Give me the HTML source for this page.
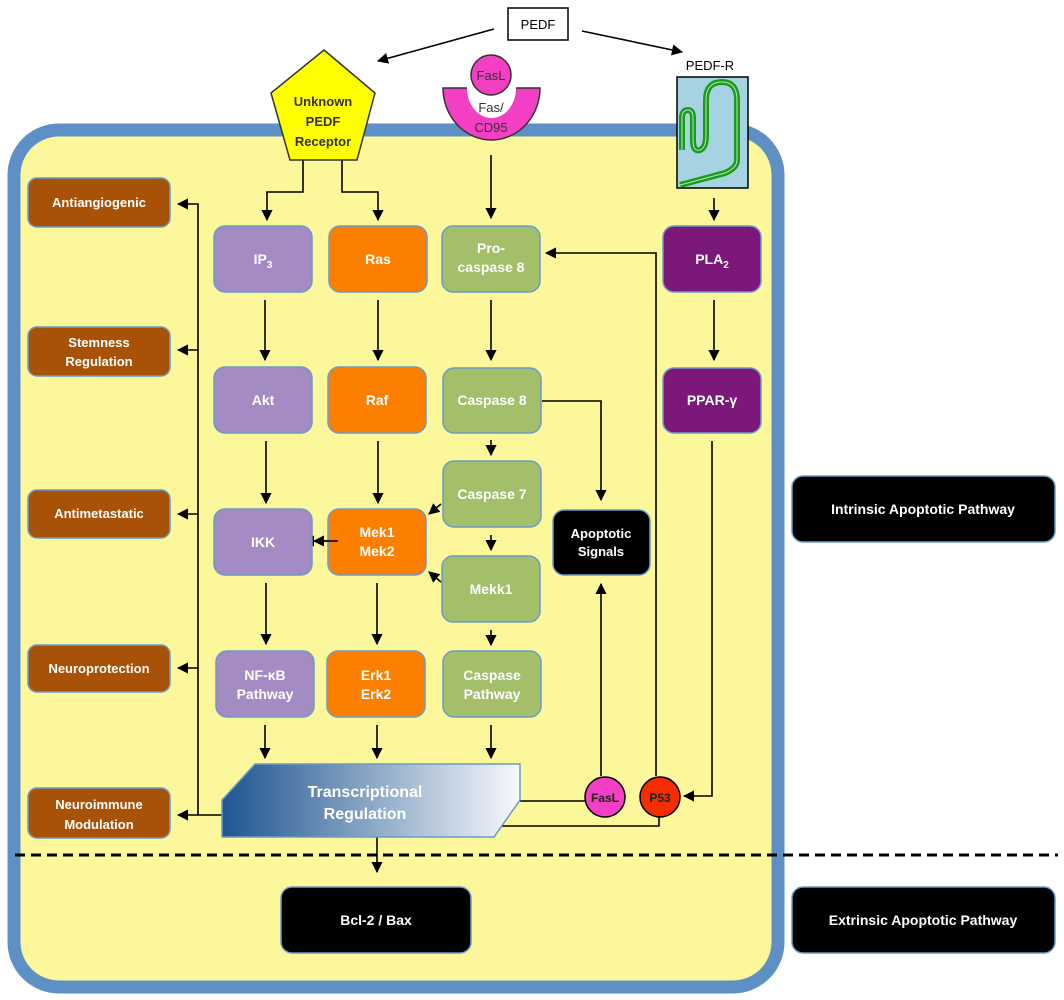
<!DOCTYPE html>
<html><head><meta charset="utf-8"><style>
html,body{margin:0;padding:0;background:#fff}
svg{display:block}
text{font-family:"Liberation Sans",sans-serif;font-weight:bold;text-anchor:middle;fill:#fff}
</style></head><body>
<svg width="1064" height="1000" viewBox="0 0 1064 1000" xmlns="http://www.w3.org/2000/svg">
<defs>
<marker id="a" viewBox="0 0 10 10" refX="9" refY="5" markerWidth="7" markerHeight="7" orient="auto"><path d="M0,0 L10,5 L0,10 z" fill="#000"/></marker>
<linearGradient id="g" x1="0" x2="1" y1="0" y2="0"><stop offset="0" stop-color="#1f5590"/><stop offset="1" stop-color="#f8f9fc"/></linearGradient>
</defs>
<!-- cell -->
<rect x="14" y="130" width="764" height="857" rx="45" fill="#fbf79a" stroke="#5e90c6" stroke-width="13"/>
<line x1="15" y1="855" x2="1058" y2="855" stroke="#000" stroke-width="3" stroke-dasharray="10,6"/>

<g stroke="#000" stroke-width="1.6" fill="none">
<line x1="494" y1="29" x2="378" y2="61" marker-end="url(#a)"/>
<line x1="582" y1="31" x2="682" y2="52" marker-end="url(#a)"/>
<polyline points="303,160 303,192 267,192 267,220" marker-end="url(#a)"/>
<polyline points="342,160 342,192 378,192 378,220" marker-end="url(#a)"/>
<line x1="491" y1="155" x2="491" y2="218" marker-end="url(#a)"/>
<line x1="714" y1="198" x2="714" y2="220" marker-end="url(#a)"/>
<line x1="265" y1="300" x2="265" y2="360" marker-end="url(#a)"/>
<line x1="266" y1="441" x2="266" y2="503" marker-end="url(#a)"/>
<line x1="266" y1="583" x2="266" y2="644" marker-end="url(#a)"/>
<line x1="265" y1="725" x2="265" y2="758" marker-end="url(#a)"/>
<line x1="378" y1="300" x2="378" y2="360" marker-end="url(#a)"/>
<line x1="378" y1="441" x2="378" y2="503" marker-end="url(#a)"/>
<line x1="377" y1="583" x2="377" y2="644" marker-end="url(#a)"/>
<line x1="377" y1="725" x2="377" y2="758" marker-end="url(#a)"/>
<line x1="338" y1="541" x2="304" y2="541" marker-end="url(#a)"/>
<line x1="491" y1="300" x2="491" y2="360" marker-end="url(#a)"/>
<line x1="491" y1="440" x2="491" y2="455" marker-end="url(#a)"/>
<line x1="491" y1="535" x2="491" y2="550" marker-end="url(#a)"/>
<line x1="491" y1="630" x2="491" y2="645" marker-end="url(#a)"/>
<line x1="491" y1="725" x2="491" y2="758" marker-end="url(#a)"/>
<line x1="441" y1="504" x2="429" y2="514" marker-end="url(#a)"/>
<line x1="441" y1="582" x2="429" y2="572" marker-end="url(#a)"/>
<polyline points="542,401 601,401 601,500" marker-end="url(#a)"/>
<line x1="714" y1="300" x2="714" y2="360" marker-end="url(#a)"/>
<polyline points="712,441 712,796 684,796" marker-end="url(#a)"/>
<polyline points="656,776 656,253 546,253" marker-end="url(#a)"/>
<line x1="601" y1="776" x2="601" y2="584" marker-end="url(#a)"/>
<line x1="520" y1="801" x2="586" y2="801"/>
<polyline points="498,826 659,826 659,816"/>
<line x1="377" y1="837" x2="377" y2="872" marker-end="url(#a)"/>
<polyline points="222,815 198,815 198,204 178,204" marker-end="url(#a)"/>
<line x1="198" y1="350" x2="178" y2="350" marker-end="url(#a)"/>
<line x1="198" y1="514" x2="178" y2="514" marker-end="url(#a)"/>
<line x1="198" y1="668" x2="178" y2="668" marker-end="url(#a)"/>
<line x1="198" y1="815" x2="178" y2="815" marker-end="url(#a)"/>
</g>

<rect x="508" y="8" width="60" height="32" fill="#fff" stroke="#000" stroke-width="1.5"/>
<text x="538" y="29" style="fill:#000;font-weight:normal" font-size="13">PEDF</text>
<polygon points="324,50 375,93 357,160 290,160 271,93" fill="#ffff00" stroke="#333" stroke-width="1.5"/>
<text x="323" y="106" font-size="13" style="fill:#333">Unknown</text>
<text x="323" y="126" font-size="13" style="fill:#333">PEDF</text>
<text x="323" y="146" font-size="13" style="fill:#333">Receptor</text>
<path d="M443,88 L540,88 A48.5,52 0 0 1 443,88 Z" fill="#f23fc4" stroke="#333" stroke-width="1.5"/>
<path d="M467,88 L516,88 A24.5,30 0 0 1 467,88 Z" fill="#fff"/>
<line x1="467" y1="88" x2="516" y2="88" stroke="#fff" stroke-width="3"/>
<circle cx="491" cy="75" r="20" fill="#f23fc4" stroke="#333" stroke-width="1.5"/>
<text x="491" y="80" font-size="13" style="fill:#333;font-weight:normal">FasL</text>
<text x="491" y="112" font-size="13" style="fill:#333;font-weight:normal">Fas/</text>
<text x="491" y="132" font-size="13" style="fill:#333;font-weight:normal">CD95</text>
<text x="710" y="70" font-size="13" style="fill:#000;font-weight:normal">PEDF-R</text>
<rect x="677" y="77" width="71" height="111" fill="#a5d3e2" stroke="#000" stroke-width="1.5"/>
<path d="M682,150 L682,118 Q682,110 688,110 Q693,110 693,118 L693,140 Q693,152 700,150 Q706,148 706,135 L706,100 Q706,82 722,82 Q737,82 737,100 L737,160 Q737,168 725,173 L680,185" fill="none" stroke="#1a9b1a" stroke-width="6"/>
<path d="M682,150 L682,118 Q682,110 688,110 Q693,110 693,118 L693,140 Q693,152 700,150 Q706,148 706,135 L706,100 Q706,82 722,82 Q737,82 737,100 L737,160 Q737,168 725,173 L680,185" fill="none" stroke="#b8e6b8" stroke-width="1"/>

<g stroke="#6b9bc8" stroke-width="1.5">
<rect x="214" y="226" width="98" height="66" rx="11" fill="#a48bc3"/>
<rect x="214" y="367" width="98" height="66" rx="11" fill="#a48bc3"/>
<rect x="214" y="509" width="98" height="66" rx="11" fill="#a48bc3"/>
<rect x="216" y="651" width="98" height="66" rx="11" fill="#a48bc3"/>
<rect x="329" y="226" width="98" height="66" rx="11" fill="#fd7f00"/>
<rect x="328" y="367" width="98" height="66" rx="11" fill="#fd7f00"/>
<rect x="328" y="509" width="98" height="66" rx="11" fill="#fd7f00"/>
<rect x="327" y="651" width="98" height="66" rx="11" fill="#fd7f00"/>
<rect x="442" y="226" width="98" height="66" rx="11" fill="#a3bf6a"/>
<rect x="443" y="368" width="98" height="65" rx="11" fill="#a3bf6a"/>
<rect x="443" y="461" width="98" height="66" rx="11" fill="#a3bf6a"/>
<rect x="442" y="556" width="98" height="66" rx="11" fill="#a3bf6a"/>
<rect x="443" y="651" width="98" height="66" rx="11" fill="#a3bf6a"/>
<rect x="663" y="226" width="98" height="66" rx="11" fill="#7b187a"/>
<rect x="663" y="368" width="98" height="65" rx="11" fill="#7b187a"/>
<rect x="553" y="510" width="97" height="65" rx="11" fill="#000"/>
<rect x="28" y="178" width="142" height="49" rx="9" fill="#a85207"/>
<rect x="28" y="327" width="142" height="49" rx="9" fill="#a85207"/>
<rect x="28" y="490" width="142" height="48" rx="9" fill="#a85207"/>
<rect x="28" y="645" width="142" height="47" rx="9" fill="#a85207"/>
<rect x="28" y="788" width="142" height="50" rx="9" fill="#a85207"/>
<rect x="281" y="887" width="190" height="66" rx="11" fill="#000"/>
<rect x="792" y="476" width="263" height="66" rx="11" fill="#000"/>
<rect x="792" y="887" width="263" height="66" rx="11" fill="#000"/>
<polygon points="255,764 520,764 520,800 494,837 222,837 222,800" fill="url(#g)"/>
</g>
<line x1="327" y1="541" x2="314" y2="541" stroke="#000" stroke-width="1.6" marker-end="url(#a)"/>
<line x1="338" y1="541" x2="327" y2="541" stroke="#000" stroke-width="1.6"/>
<circle cx="605" cy="797" r="20" fill="#f23fc4" stroke="#000" stroke-width="1.5"/>
<circle cx="660" cy="797" r="20" fill="#f52d00" stroke="#000" stroke-width="1.5"/>

<g font-size="14">
<text x="263" y="264">IP<tspan font-size="10" dy="4">3</tspan></text>
<text x="263" y="405">Akt</text>
<text x="263" y="547">IKK</text>
<text x="265" y="680">NF-κB</text><text x="265" y="699">Pathway</text>
<text x="378" y="264">Ras</text>
<text x="377" y="405">Raf</text>
<text x="377" y="537">Mek1</text><text x="377" y="556">Mek2</text>
<text x="376" y="680">Erk1</text><text x="376" y="699">Erk2</text>
<text x="491" y="253">Pro-</text><text x="491" y="272">caspase 8</text>
<text x="492" y="405">Caspase 8</text>
<text x="492" y="499">Caspase 7</text>
<text x="491" y="594">Mekk1</text>
<text x="492" y="680">Caspase</text><text x="492" y="699">Pathway</text>
<text x="712" y="264">PLA<tspan font-size="10" dy="4">2</tspan></text>
<text x="712" y="405">PPAR-γ</text>
<text x="601" y="538" font-size="13">Apoptotic</text><text x="601" y="556" font-size="13">Signals</text>
<text x="605" y="802" font-size="12" style="fill:#222">FasL</text>
<text x="660" y="802" font-size="12" style="fill:#222">P53</text>
<text x="365" y="797" font-size="16">Transcriptional</text>
<text x="365" y="819" font-size="16">Regulation</text>
<text x="376" y="925">Bcl-2 / Bax</text>
<text x="923" y="514">Intrinsic Apoptotic Pathway</text>
<text x="923" y="925">Extrinsic Apoptotic Pathway</text>
<g style="font-weight:normal" font-size="13">
<text x="99" y="207">Antiangiogenic</text>
<text x="99" y="347">Stemness</text><text x="99" y="366">Regulation</text>
<text x="99" y="518">Antimetastatic</text>
<text x="99" y="673">Neuroprotection</text>
<text x="99" y="809">Neuroimmune</text><text x="99" y="829">Modulation</text>
</g>
</g>
</svg>
</body></html>
